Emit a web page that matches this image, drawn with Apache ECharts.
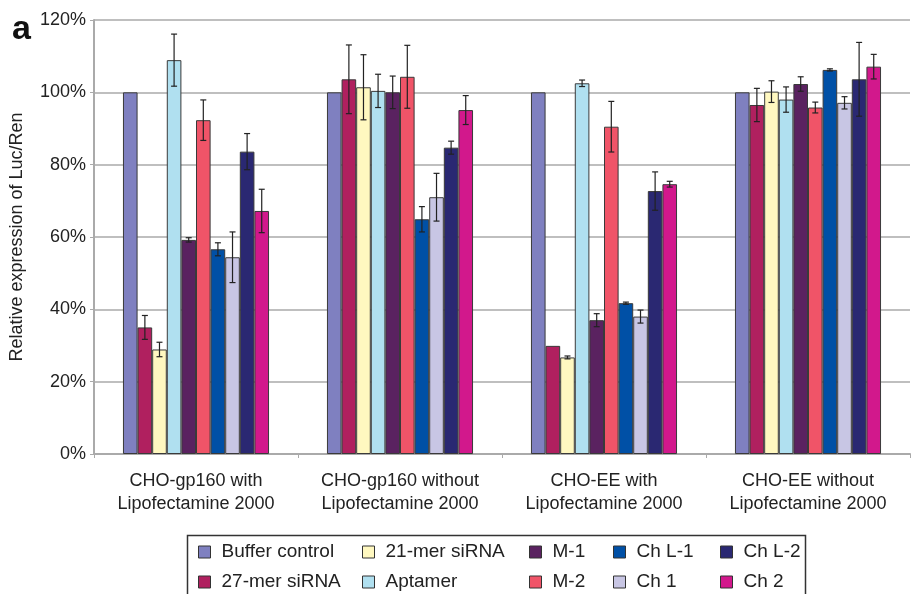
<!DOCTYPE html>
<html><head><meta charset="utf-8">
<script src="https://cdn.jsdelivr.net/npm/echarts@6/dist/echarts.min.js"></script>
<style>html,body{margin:0;padding:0;background:#fff}#c{width:912px;height:594px}</style>
</head><body><div id="c"></div>
<script>
const categories = ['CHO-gp160 with\nLipofectamine 2000','CHO-gp160 without\nLipofectamine 2000','CHO-EE with\nLipofectamine 2000','CHO-EE without\nLipofectamine 2000'];
const yTicks = ['0%','20%','40%','60%','80%','100%','120%'];
const seriesNames = ['Buffer control','27-mer siRNA','21-mer siRNA','Aptamer','M-1','M-2','Ch L-1','Ch 1','Ch L-2','Ch 2'];
const colors = ['#7F80C0','#B0205F','#FFF8C0','#B0E0F0','#5A2260','#F05468','#0050A6','#C8C6E4','#2A2872','#D2188C'];
const bufferControl = [100,100,100,100];
const mer27 = [35,103.6,29.9,96.5];
const mer21 = [28.9,101.4,26.7,100.2];
const aptamer = [108.9,100.4,102.5,98];
const m1 = [59.2,100,37,102.3];
const m2 = [92.3,104.3,90.5,95.8];
const chL1 = [56.6,64.9,41.7,106.2];
const ch1 = [54.4,71,38,97.1];
const chL2 = [83.6,84.7,72.7,103.6];
const ch2 = [67.2,95.1,74.6,107.1];
const errBuffer = [0,0,0,0];
const err27 = [3.3,9.5,0,4.6];
const err21 = [2,9,0.4,3];
const errAptamer = [7.2,4.6,0.9,3.5];
const errM1 = [0.6,4.5,1.8,2];
const errM2 = [5.6,8.7,7,1.5];
const errChL1 = [1.8,3.5,0.3,0.3];
const errCh1 = [7,6.6,1.8,1.7];
const errChL2 = [5,1.8,5.3,10.2];
const errCh2 = [6,4,0.8,3.4];

const values = [bufferControl,mer27,mer21,aptamer,m1,m2,chL1,ch1,chL2,ch2];
const errors = [errBuffer,err27,err21,errAptamer,errM1,errM2,errChL1,errCh1,errChL2,errCh2];
const GAP = 0.284;
const N = seriesNames.length;

const chart = echarts.init(document.getElementById('c'));
const series = seriesNames.map((n,i)=>({
  name:n, type:'bar', data:values[i], barGap:'0%', barCategoryGap:(GAP*100)+'%',
  itemStyle:{color:colors[i], borderColor:'#3a3a3a', borderWidth:1}
}));
const errData = [];
errors.forEach((arr,j)=>arr.forEach((e,c)=>{ if(e>0) errData.push([c,j,values[j][c],e]); }));
series.push({
  type:'custom', name:'err', data:errData, encode:{x:0,y:2}, z:10, silent:true,
  renderItem:function(params, api){
    const c = api.value(0), j = api.value(1), v = api.value(2), e = api.value(3);
    const band = api.size([1,0])[0];
    const bw = band*(1-GAP)/N;
    const base = api.coord([c, v]);
    const x = base[0] + (j-(N-1)/2)*bw;
    const top = api.coord([c, v+e])[1];
    const bot = api.coord([c, v-e])[1];
    const st = {stroke:'#222', lineWidth:1.2};
    return {type:'group', children:[
      {type:'line', shape:{x1:x,y1:top,x2:x,y2:bot}, style:st},
      {type:'line', shape:{x1:x-3,y1:top,x2:x+3,y2:top}, style:st},
      {type:'line', shape:{x1:x-3,y1:bot,x2:x+3,y2:bot}, style:st}
    ]};
  }
});
const cols = [[0,1],[2,3],[4,5],[6,7],[8,9]];
const colLeft = [198,362,529,613,720];
const legends = cols.map((idx,k)=>({
  orient:'vertical', left:colLeft[k], top:542, padding:0, itemGap:10,
  itemWidth:12, itemHeight:12, icon:'rect',
  itemStyle:{borderColor:'#333', borderWidth:1},
  textStyle:{fontFamily:'Liberation Sans', fontSize:19, color:'#222', lineHeight:20, padding:[0,0,0,6]},
  data:idx.map(i=>seriesNames[i])
}));
chart.setOption({
  animation:false,
  color:colors,
  title:{text:'a', left:7, top:8, textStyle:{fontFamily:'Liberation Sans', fontWeight:'bold', fontSize:34, color:'#111'}},
  grid:{left:94, right:2, top:20, bottom:140},
  legend:legends,
  xAxis:{type:'category', data:categories,
    axisLine:{lineStyle:{color:'#aaa', width:2}},
    axisTick:{show:true, length:4, lineStyle:{color:'#aaa'}},
    axisLabel:{interval:0, fontFamily:'Liberation Sans', fontSize:18, color:'#222', lineHeight:23, margin:16}},
  yAxis:{type:'value', min:0, max:120, interval:20,
    name:'Relative expression of Luc/Ren', nameLocation:'middle', nameGap:68,
    nameTextStyle:{fontFamily:'Liberation Sans', fontSize:18, color:'#222'},
    axisLine:{show:true, lineStyle:{color:'#aaa', width:2}},
    axisTick:{show:true, length:4, lineStyle:{color:'#aaa'}},
    splitLine:{lineStyle:{color:'#aaa', width:1.5}},
    axisLabel:{fontFamily:'Liberation Sans', fontSize:18, color:'#222', margin:8,
      formatter:function(v){ return yTicks[Math.round(v/20)]; }}},
  graphic:[{type:'rect', shape:{x:187.5,y:535.5,width:618,height:70}, style:{fill:'none', stroke:'#333', lineWidth:1.5}, silent:true}],
  series:series
});
</script></body></html>
